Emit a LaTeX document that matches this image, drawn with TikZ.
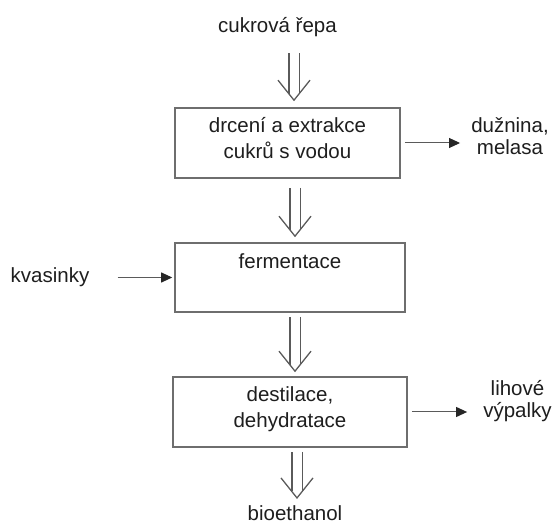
\documentclass[tikz,border=0pt]{standalone}
\usepackage{fontspec}
\setmainfont{Liberation Sans}
\usetikzlibrary{arrows.meta,decorations.markings}
\definecolor{linegray}{HTML}{5A5A5A}
\definecolor{boxgray}{HTML}{6E6E6E}
\definecolor{txtcol}{HTML}{1E1E1E}
\tikzstyle{process}=[rectangle, draw=boxgray, line width=1.6pt, fill=white,
		text=txtcol, align=center, inner sep=0pt, text depth=10pt,
		font=\fontsize{20.5}{26}\selectfont]
\tikzstyle{txt}=[text=txtcol, align=center, inner sep=0pt,
		font=\fontsize{20.5}{21.5}\selectfont]
\tikzstyle{side}=[draw=linegray, line width=1pt,
		-{Triangle[length=11pt,width=10pt,color=black!85]}]
\tikzstyle{flow}=[draw=linegray, line width=1.3pt, double, double distance=9pt,
		shorten >=6.5pt, postaction={decorate, decoration={markings,
		mark=at position 1 with {\draw[linegray, line width=1.3pt, shorten >=0pt, shorten <=0pt]
		(-20pt,16pt) -- (0pt,0pt) -- (-20pt,-16pt);}}}]

\begin{document}
\begin{tikzpicture}[x=1pt,y=-1pt]
    \useasboundingbox (0,0) rectangle (555,526);

    \node (Beet) [txt, anchor=base] at (277.5,33) {cukrová řepa};

    \node (Crush) [process, minimum width=225pt, minimum height=70pt]
    		at (287.5,143) {drcení a extrakce\\cukrů s vodou};

    \node (Ferm) [process, minimum width=230pt, minimum height=69pt,
    		text depth=32pt] at (290,277.5) {fermentace};

    \node (Dist) [process, minimum width=234pt, minimum height=70pt]
    		at (290,412) {destilace,\\dehydratace};

    \node (Eth) [txt, anchor=base] at (295,521) {bioethanol};

    \node (Pulp) [txt] at (510,136) {dužnina,\\melasa};
    \node (Yeast) [txt, anchor=base] at (50,283) {kvasinky};
    \node (Stillage) [txt] at (517.5,401) {lihové\\výpalky};

    \draw[flow] ([shift={(16.5,16)}]Beet.south) -- ([shift={(6.5,-7)}]Crush.north);
    \draw[flow] ([shift={(7.5,9)}]Crush.south) -- ([shift={(5,-6)}]Ferm.north);
    \draw[flow] ([shift={(5,4)}]Ferm.south) -- ([shift={(5,-5)}]Dist.north);
    \draw[flow] ([shift={(7,4)}]Dist.south) -- ([shift={(2,-8)}]Eth.north);

    \draw[side, shorten <=4pt, shorten >=11pt] (Crush.east) -- (Crush.east -| Pulp.west);
    \draw[side, shorten <=28pt, shorten >=2pt] (Yeast.east |- Ferm.west) -- (Ferm.west);
    \draw[side, shorten <=4pt, shorten >=16pt] (Dist.east) -- (Dist.east -| Stillage.west);

\end{tikzpicture}
\end{document}
